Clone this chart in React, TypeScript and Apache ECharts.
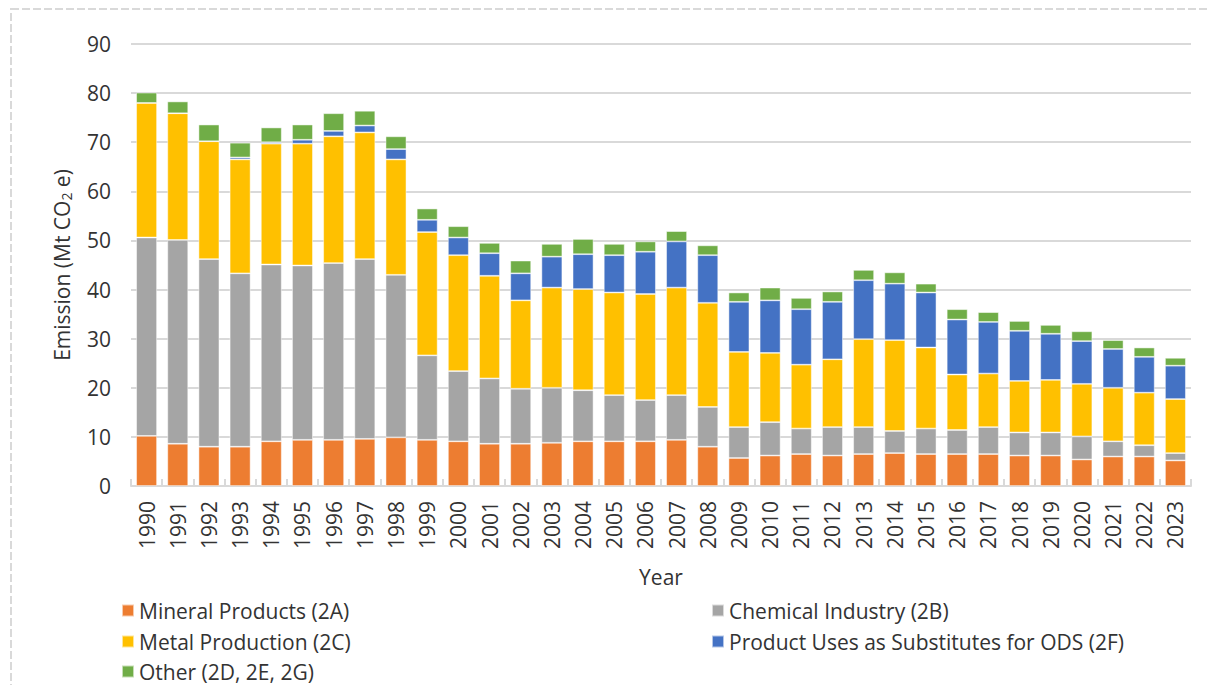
import React, { useEffect, useRef } from "react";
import * as echarts from "echarts";

const years = ["1990","1991","1992","1993","1994","1995","1996","1997","1998","1999","2000","2001","2002","2003","2004","2005","2006","2007","2008","2009","2010","2011","2012","2013","2014","2015","2016","2017","2018","2019","2020","2021","2022","2023"];

const mineral = [10.2,8.6,8.0,8.0,9.1,9.4,9.4,9.6,9.9,9.4,9.1,8.6,8.6,8.8,9.1,9.1,9.1,9.4,8.0,5.7,6.2,6.5,6.2,6.5,6.7,6.5,6.5,6.5,6.2,6.2,5.4,6.0,6.0,5.2];
const chemical = [40.4,41.5,38.2,35.3,36.0,35.5,36.0,36.6,33.1,17.2,14.3,13.3,11.2,11.2,10.4,9.4,8.4,9.1,8.1,6.3,6.8,5.2,5.8,5.5,4.5,5.2,4.9,5.5,4.7,4.7,4.7,3.1,2.3,1.5];
const metal = [27.4,25.8,24.0,23.2,24.6,24.8,25.8,25.8,23.5,25.1,23.6,20.9,18.0,20.4,20.6,20.9,21.6,21.9,21.2,15.3,14.1,13.0,13.8,17.9,18.5,16.5,11.3,10.9,10.5,10.7,10.7,10.9,10.7,11.0];
const ods = [0,0,0,0.4,0.3,0.8,1.1,1.4,2.1,2.5,3.6,4.6,5.5,6.3,7.1,7.6,8.6,9.4,9.7,10.2,10.7,11.3,11.7,12.0,11.5,11.2,11.2,10.5,10.2,9.4,8.7,7.9,7.3,6.8];
const other = [2.1,2.4,3.4,3.0,3.0,3.1,3.6,3.0,2.6,2.3,2.3,2.1,2.6,2.6,3.1,2.3,2.1,2.1,2.0,1.9,2.6,2.3,2.1,2.1,2.3,1.8,2.1,2.0,2.0,1.8,2.0,1.8,1.9,1.6];

const seriesNames = [
  "Mineral Products (2A)",
  "Chemical Industry (2B)",
  "Metal Production (2C)",
  "Product Uses as Substitutes for ODS (2F)",
  "Other (2D, 2E, 2G)",
];
const seriesData = [mineral, chemical, metal, ods, other];
const colors = ["#ED7D31", "#A5A5A5", "#FFC000", "#4472C4", "#70AD47"];

const yTicks = { min: 0, max: 90, interval: 10 };

const FONT = "'Open Sans', 'Liberation Sans', sans-serif";
const TEXT = "#333333";
const FS = 21;

// legend layout: [series index, left, top]
const legendSlots: [number, number, number][] = [
  [0, 121, 600],
  [2, 121, 631],
  [4, 121, 661],
  [1, 711, 600],
  [3, 711, 631],
];

export default function App() {
  const ref = useRef<HTMLDivElement>(null);
  useEffect(() => {
    if (!ref.current) return;
    const chart = echarts.init(ref.current, undefined, { renderer: "svg" });
    chart.setOption({
      animation: false,
      backgroundColor: "#ffffff",
      textStyle: { fontFamily: FONT },
      color: colors,
      grid: { left: 131, right: 18, top: 44, bottom: 199, containLabel: false },
      graphic: [
        {
          type: "rect",
          shape: { x: 11, y: 9, width: 1220, height: 700 },
          style: { fill: "none", stroke: "#d9d9d9", lineWidth: 2, lineDash: [8, 3] },
          silent: true,
        },
      ],
      legend: legendSlots.map(([idx, left, top]) => ({
        data: [seriesNames[idx]],
        orient: "horizontal",
        left,
        top,
        icon: "rect",
        itemWidth: 12,
        itemHeight: 12,
        itemGap: 10,
        padding: 0,
        textStyle: { fontSize: FS, lineHeight: 20, color: TEXT, fontFamily: FONT },
      })),
      xAxis: {
        type: "category",
        data: years,
        name: "Year",
        nameLocation: "middle",
        nameGap: 80,
        nameTextStyle: { fontSize: FS, color: TEXT, fontFamily: FONT },
        axisLine: { show: true, lineStyle: { color: "#d9d9d9", width: 2 } },
        axisTick: { show: true, inside: true, length: 7, lineStyle: { color: "#d9d9d9", width: 2 } },
        axisLabel: { rotate: 90, fontSize: FS, color: TEXT, margin: 15, fontFamily: FONT },
      },
      yAxis: {
        type: "value",
        min: yTicks.min,
        max: yTicks.max,
        interval: yTicks.interval,
        name: "Emission (Mt CO{sub|2} e)",
        nameLocation: "middle",
        nameGap: 58,
        nameTextStyle: {
          fontSize: FS,
          color: TEXT,
          fontFamily: FONT,
          rich: {
            sub: { fontSize: 14, color: TEXT, fontFamily: FONT, verticalAlign: "bottom", padding: [8, 0, 0, 0] },
          },
        },
        axisLine: { show: false },
        axisTick: { show: false },
        axisLabel: { fontSize: FS, color: TEXT, margin: 20, fontFamily: FONT },
        splitLine: { lineStyle: { color: "#d9d9d9", width: 2 } },
      },
      series: seriesNames.map((name, i) => ({
        name,
        type: "bar",
        stack: "total",
        data: seriesData[i],
        barCategoryGap: "33%",
        itemStyle: { color: colors[i], borderColor: "rgba(255,255,255,0.6)", borderWidth: 0.8 },
      })),
    });
    return () => chart.dispose();
  }, []);
  return (
    <div
      ref={ref}
      style={{ position: "absolute", left: 0, top: 0, width: 1209, height: 685 }}
    />
  );
}
